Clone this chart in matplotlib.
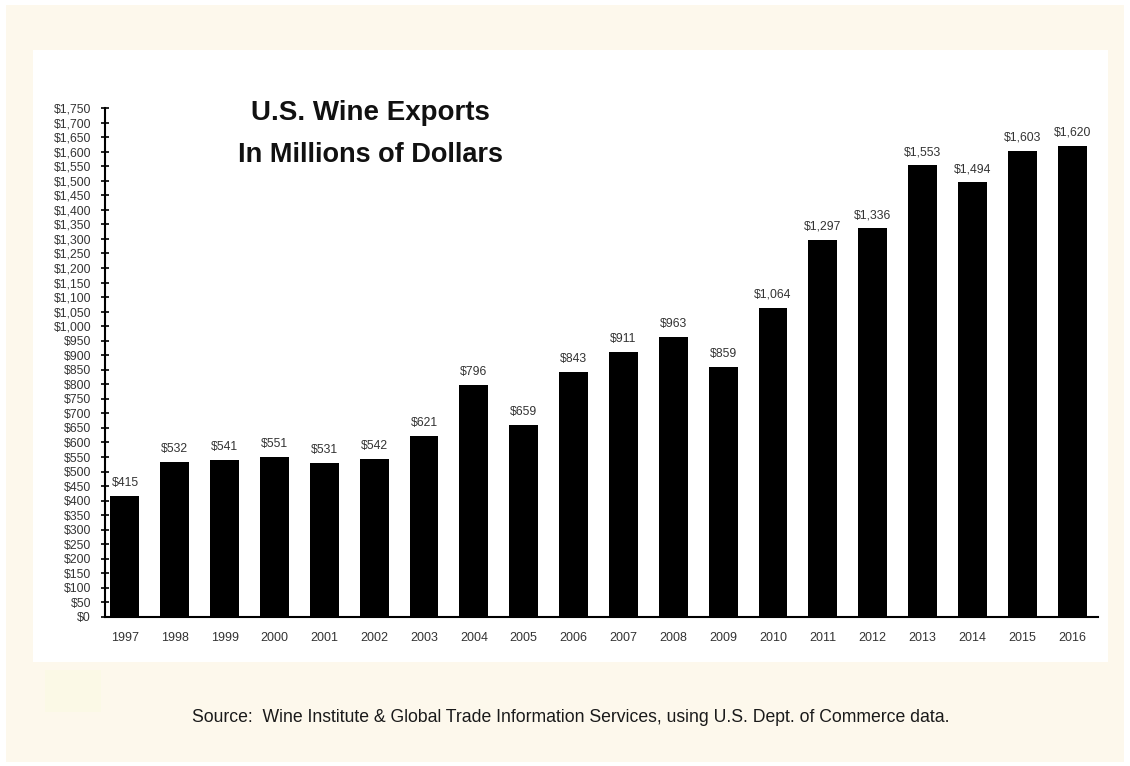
import matplotlib.pyplot as plt
from matplotlib.patches import Rectangle

years = ['1997', '1998', '1999', '2000', '2001', '2002', '2003', '2004', '2005', '2006',
         '2007', '2008', '2009', '2010', '2011', '2012', '2013', '2014', '2015', '2016']
exports = [415, 532, 541, 551, 531, 542, 621, 796, 659, 843,
           911, 963, 859, 1064, 1297, 1336, 1553, 1494, 1603, 1620]
y_ticks = list(range(0, 1751, 50))

plt.rcParams['font.family'] = ['Liberation Sans', 'DejaVu Sans']

fig = plt.figure(figsize=(11.3, 7.66), dpi=100, facecolor='white')
W, H = 1130, 766
# cream page and white chart panel
fig.patches.append(Rectangle((6 / W, 4 / H), 1118 / W, 757 / H, transform=fig.transFigure,
                             facecolor='#fdf8ec', edgecolor='none', zorder=-3))
fig.patches.append(Rectangle((33 / W, 1 - 662 / H), 1075 / W, 612 / H, transform=fig.transFigure,
                             facecolor='white', edgecolor='none', zorder=-2))
fig.patches.append(Rectangle((45 / W, 1 - 712 / H), 56 / W, 42 / H, transform=fig.transFigure,
                             facecolor='#fbf9e6', edgecolor='none', zorder=-2))

ax = fig.add_axes([105 / W, 1 - 617 / H, 993 / W, 509 / H])
ax.set_facecolor('none')
x = list(range(len(years)))
ax.bar(x, exports, width=0.58, color='black')
for i, v in enumerate(exports):
    ax.text(i, v + 24, f'${v:,}', ha='center', va='bottom', fontsize=8.8, color='#333333')

ax.set_xlim(-0.4, 19.52)
ax.set_ylim(0, 1750)
ax.set_yticks(y_ticks)
ax.set_yticklabels([f'${t:,}' for t in y_ticks], fontsize=8.8, color='#333333')
ax.set_xticks(x)
ax.set_xticklabels(years, fontsize=9, color='#333333')
ax.tick_params(axis='x', length=0, pad=11)
ax.tick_params(axis='y', direction='inout', length=6, width=1.2, pad=7)
for s in ['top', 'right']:
    ax.spines[s].set_visible(False)
ax.spines['left'].set_linewidth(1.5)
ax.spines['bottom'].set_linewidth(1.5)

fig.text(370 / W, 1 - 113 / H, 'U.S. Wine Exports', ha='center', va='center',
         fontsize=20, fontweight='bold', color='#111111')
fig.text(370 / W, 1 - 155 / H, 'In Millions of Dollars', ha='center', va='center',
         fontsize=19.5, fontweight='bold', color='#111111')

fig.text(571 / W, 1 - 718 / H,
         'Source:  Wine Institute & Global Trade Information Services, using U.S. Dept. of Commerce data.',
         ha='center', va='center', fontsize=12.7, color='#1a1a1a')

fig.savefig('out.png', dpi=100, facecolor=fig.get_facecolor())
